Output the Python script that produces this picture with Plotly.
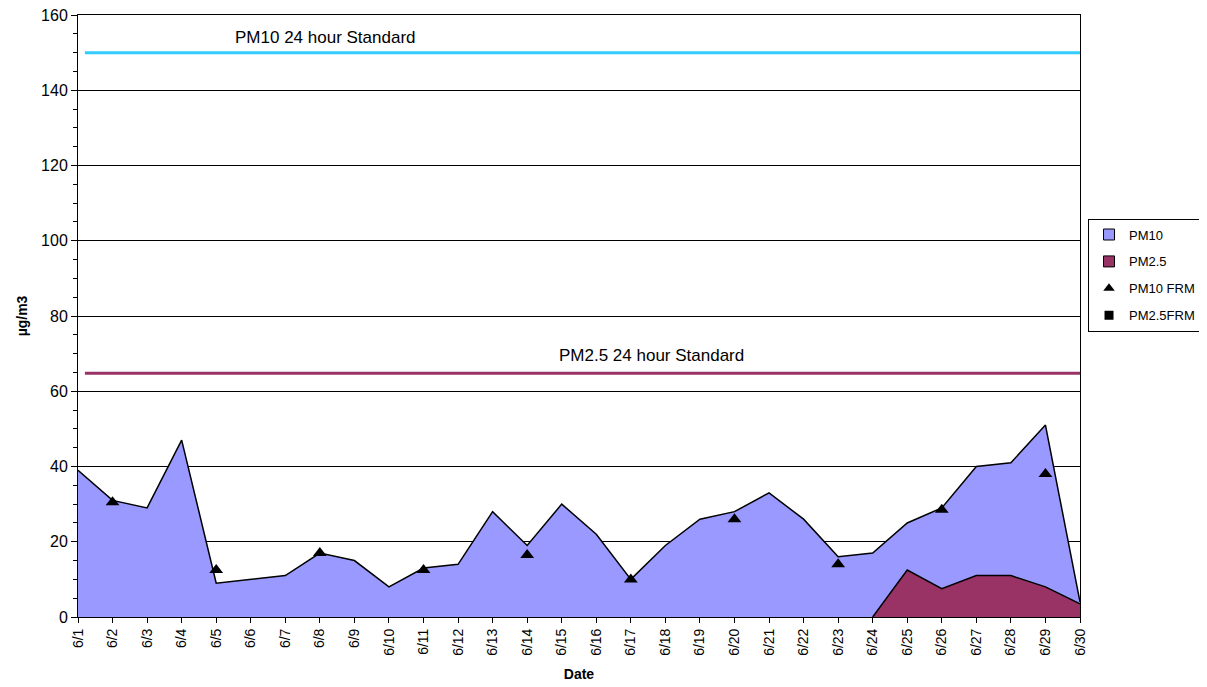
import plotly.graph_objects as go

dates = ["6/%d" % d for d in range(1, 31)]
pm10 = [39, 31, 29, 47, 9, 10, 11, 17, 15, 8, 13, 14, 28, 19, 30, 22, 10, 19, 26, 28,
        33, 26, 16, 17, 25, 29, 40, 41, 51, 4]
pm25 = [None] * 23 + [0, 12.5, 7.5, 11, 11, 8, 3.5]
frm_dates = ["6/2", "6/5", "6/8", "6/11", "6/14", "6/17", "6/20", "6/23", "6/26", "6/29"]
pm10_frm = [30.5, 12.5, 17, 12.5, 16.5, 10, 26, 14, 28.5, 38]
pm10_standard = 150
pm25_standard = 64.8

idx = {d: i for i, d in enumerate(dates)}
x = list(range(len(dates)))
FONT = "Liberation Sans, Arial, sans-serif"

fig = go.Figure()
fig.add_trace(go.Scatter(x=x, y=pm10, mode="lines", fill="tozeroy",
                         fillcolor="#9999FF", line=dict(color="black", width=1.5),
                         showlegend=False))
fig.add_trace(go.Scatter(x=x, y=pm25, mode="lines", fill="tozeroy",
                         fillcolor="#993366", line=dict(color="black", width=1.5),
                         showlegend=False))
fig.add_trace(go.Scatter(x=[0.2, len(dates) - 1], y=[pm10_standard] * 2, mode="lines",
                         line=dict(color="#33CCFF", width=3), showlegend=False))
fig.add_trace(go.Scatter(x=[0.2, len(dates) - 1], y=[pm25_standard] * 2, mode="lines",
                         line=dict(color="#993366", width=3), showlegend=False))
fig.add_trace(go.Scatter(x=[idx[d] for d in frm_dates], y=pm10_frm, mode="markers",
                         marker=dict(symbol="triangle-up", size=12, color="black"),
                         showlegend=False))

# legend entries
fig.add_trace(go.Scatter(x=[None], y=[None], mode="markers", name="PM10", legendgroup="a",
                         marker=dict(symbol="square", size=11, color="#9999FF",
                                     line=dict(color="black", width=1))))
fig.add_trace(go.Scatter(x=[None], y=[None], mode="markers", name="PM2.5", legendgroup="b",
                         marker=dict(symbol="square", size=11, color="#993366",
                                     line=dict(color="black", width=1))))
fig.add_trace(go.Scatter(x=[None], y=[None], mode="markers", name="PM10 FRM", legendgroup="c",
                         marker=dict(symbol="triangle-up", size=10, color="black")))
fig.add_trace(go.Scatter(x=[None], y=[None], mode="markers", name="PM2.5FRM", legendgroup="d",
                         marker=dict(symbol="square", size=9, color="black")))

fig.add_annotation(x=7.15, y=154, text="PM10 24 hour Standard", showarrow=False,
                   font=dict(size=17, color="black", family=FONT))
fig.add_annotation(x=16.6, y=69.5, text="PM2.5 24 hour Standard", showarrow=False,
                   font=dict(size=17, color="black", family=FONT))

# the page body adds an 8px offset, so the figure is sized/margined to compensate
fig.update_layout(
    width=1199, height=679,
    margin=dict(l=70, r=127, t=7, b=70, autoexpand=False),
    paper_bgcolor="white", plot_bgcolor="white",
    font=dict(family=FONT, size=14, color="black"),
    legend=dict(x=1.008, y=0.568, xanchor="left", yanchor="middle",
                bordercolor="black", borderwidth=1, bgcolor="white",
                font=dict(size=13), itemwidth=30, tracegroupgap=7),
    xaxis=dict(range=[0, len(dates) - 1], tickmode="array", tickvals=x, ticktext=dates,
               tickangle=-90, ticks="outside", ticklen=5, tickcolor="black",
               showgrid=False, showline=True, linecolor="black", linewidth=1,
               mirror=True, zeroline=False, tickfont=dict(size=14), automargin=False,
               ticklabeloverflow="allow",
               title=dict(text="<b>Date</b>", font=dict(size=14), standoff=14)),
    yaxis=dict(range=[0, 160], dtick=20, ticks="outside", ticklen=6, tickcolor="black",
               minor=dict(dtick=5, ticks="outside", ticklen=4, tickcolor="black", showgrid=False),
               showgrid=True, gridcolor="black", gridwidth=1,
               showline=True, linecolor="black", linewidth=1, mirror=True,
               zeroline=False, tickfont=dict(size=16), automargin=False,
               ticklabeloverflow="allow",
               title=dict(text="<b>µg/m3</b>", font=dict(size=14), standoff=10)),
)

fig.write_html("out.html")
